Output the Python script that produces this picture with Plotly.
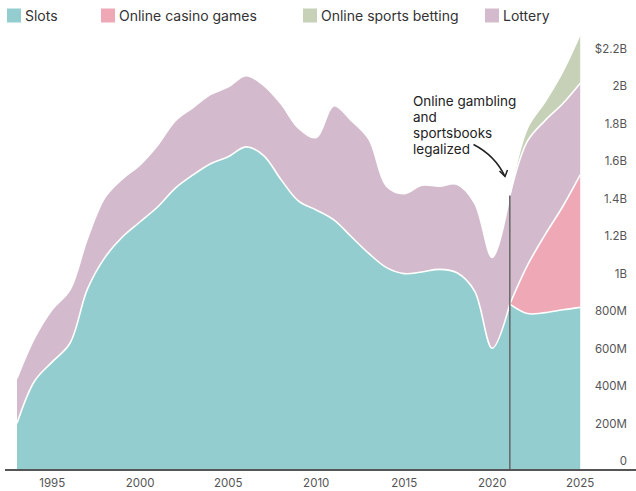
import plotly.graph_objects as go

# ---------------- data (billions of dollars) ----------------
years = list(range(1993, 2026))
slots = [0.244, 0.47, 0.572, 0.67, 0.96, 1.13, 1.24, 1.32, 1.40, 1.50,
         1.57, 1.63, 1.667, 1.72, 1.675, 1.545, 1.43, 1.383, 1.33, 1.24,
         1.15, 1.075, 1.043, 1.052, 1.066, 1.048, 0.95, 0.645, 0.88, 0.83,
         0.835, 0.85, 0.863]
lottery = [0.24, 0.23, 0.28, 0.285, 0.27, 0.32, 0.31, 0.305, 0.33, 0.36,
           0.36, 0.37, 0.373, 0.38, 0.375, 0.405, 0.39, 0.387, 0.61, 0.62,
           0.61, 0.435, 0.427, 0.463, 0.444, 0.472, 0.47, 0.485, 0.58, 0.663,
           0.61, 0.55, 0.49]
online_years = [2021, 2022, 2023, 2024, 2025]
online_casino = [0.0, 0.257, 0.415, 0.55, 0.707]
online_sports = [0.0, 0.07, 0.10, 0.17, 0.26]
legal_year = 2021

series_names = ["Slots", "Online casino games", "Online sports betting", "Lottery"]
series_colors = ["#93CDD0", "#EEA8B6", "#C6D1B8", "#D3BBCD"]

x_tickvals = [1995, 2000, 2005, 2010, 2015, 2020, 2025]
y_tickvals = [0, 0.2, 0.4, 0.6, 0.8, 1.0, 1.2, 1.4, 1.6, 1.8, 2.0, 2.2]
y_ticktext = ["0", "200M", "400M", "600M", "800M", "1B", "1.2B", "1.4B",
              "1.6B", "1.8B", "2B", "$2.2B"]
note_lines = ["Online gambling", "and", "sportsbooks", "legalized"]

# ---------------- layout geometry ----------------
W, H = 636, 491
ML, MR, MT, MB = 5, 0, 28, 22
XR = [1992.318, 2028.17]
YR = [0, 2.3545]
PW, PH = W - ML - MR, H - MT - MB
FONT = "Inter"


def px2x(px):
    return XR[0] + (px - ML) / PW * (XR[1] - XR[0])


def px2y(py):
    return YR[0] + (H - MB - py) / PH * (YR[1] - YR[0])


def px2paper_x(px):
    return (px - ML) / PW


def px2paper_y(py):
    return (H - MB - py) / PH


c_slots, c_casino, c_sports, c_lottery = series_colors
i0 = years.index(legal_year)
pre_x = years[: i0 + 1]
post_x = years[i0:]
slots_pre = slots[: i0 + 1]
lot_pre_top = [s + l for s, l in zip(slots_pre, lottery[: i0 + 1])]
slots_post = slots[i0:]
casino_top = [s + c for s, c in zip(slots_post, online_casino)]
lot_post_top = [c + l for c, l in zip(casino_top, lottery[i0:])]
total_post = [l + s for l, s in zip(lot_post_top, online_sports)]

line = dict(color="white", width=1.6, shape="spline", smoothing=1.0)

fig = go.Figure()
fig.add_trace(go.Scatter(x=pre_x, y=slots_pre, mode="lines", line=line,
                         fill="tozeroy", fillcolor=c_slots, showlegend=False,
                         name=series_names[0]))
fig.add_trace(go.Scatter(x=pre_x, y=lot_pre_top, mode="lines", line=line,
                         fill="tonexty", fillcolor=c_lottery, showlegend=False,
                         name=series_names[3]))
fig.add_trace(go.Scatter(x=post_x, y=slots_post, mode="lines", line=line,
                         fill="tozeroy", fillcolor=c_slots, showlegend=False,
                         name=series_names[0]))
fig.add_trace(go.Scatter(x=post_x, y=casino_top, mode="lines", line=line,
                         fill="tonexty", fillcolor=c_casino, showlegend=False,
                         name=series_names[1]))
fig.add_trace(go.Scatter(x=post_x, y=lot_post_top, mode="lines", line=line,
                         fill="tonexty", fillcolor=c_lottery, showlegend=False,
                         name=series_names[3]))
fig.add_trace(go.Scatter(x=post_x, y=total_post, mode="lines", line=line,
                         fill="tonexty", fillcolor=c_sports, showlegend=False,
                         name=series_names[2]))

shapes = []
annotations = []

# vertical marker at legalization year
shapes.append(dict(type="line", xref="x", yref="y", x0=legal_year, x1=legal_year,
                   y0=0, y1=lot_pre_top[-1], line=dict(color="#6b6b6b", width=1.6),
                   layer="above"))

# legend (custom, to match swatch/text spacing)
legend_swatch_px = [7, 101, 303, 485]
for name, col, sx in zip(series_names, series_colors, legend_swatch_px):
    shapes.append(dict(type="rect", xref="paper", yref="paper",
                       x0=px2paper_x(sx), x1=px2paper_x(sx + 14),
                       y0=px2paper_y(8.5), y1=px2paper_y(22.5),
                       fillcolor=col, line=dict(width=0), layer="above"))
    annotations.append(dict(text=name, xref="paper", yref="paper",
                            x=px2paper_x(sx + 16), y=px2paper_y(15.5),
                            xanchor="left", yanchor="middle", showarrow=False,
                            font=dict(family=FONT, size=14, color="#333333")))

# note text
for k, t in enumerate(note_lines):
    annotations.append(dict(text=t, xref="x", yref="y", x=px2x(411),
                            y=px2y(100.7 + 16.2 * k), xanchor="left",
                            yanchor="middle", showarrow=False,
                            font=dict(family=FONT, size=13.5, color="#222222")))

# curved arrow
p0 = (473.5, 144.5)
p1 = (495.0, 155.5)
p2 = (505.0, 176.5)
path = "M {} {} Q {} {} {} {}".format(px2x(p0[0]), px2y(p0[1]), px2x(p1[0]),
                                      px2y(p1[1]), px2x(p2[0]), px2y(p2[1]))
shapes.append(dict(type="path", xref="x", yref="y", path=path,
                   line=dict(color="#222222", width=1.5), layer="above"))
head = "M {} {} L {} {} L {} {}".format(px2x(499.5), px2y(171.0), px2x(p2[0]),
                                        px2y(p2[1]), px2x(507.5), px2y(170.0))
shapes.append(dict(type="path", xref="x", yref="y", path=head,
                   line=dict(color="#222222", width=1.5), layer="above"))

fig.update_layout(
    width=W, height=H,
    margin=dict(l=ML, r=MR, t=MT, b=MB),
    paper_bgcolor="white", plot_bgcolor="white",
    showlegend=False,
    shapes=shapes, annotations=annotations,
    font=dict(family=FONT, color="#555555"),
    xaxis=dict(range=XR, tickvals=x_tickvals, showgrid=False, zeroline=False,
               showline=True, linecolor="#555555", linewidth=1.5, ticks="",
               ticklabelstandoff=2,
               tickfont=dict(family=FONT, size=11.5, color="#555555"),
               automargin=False, fixedrange=True),
    yaxis=dict(range=YR, tickvals=y_tickvals, ticktext=y_ticktext,
               side="left", anchor="free", position=px2paper_x(627),
               showgrid=False, zeroline=False, showline=False, ticks="",
               ticklabelshift=-8,
               tickfont=dict(family=FONT, size=11.5, color="#555555"),
               automargin=False, fixedrange=True),
)

fig.write_html("out.html")
